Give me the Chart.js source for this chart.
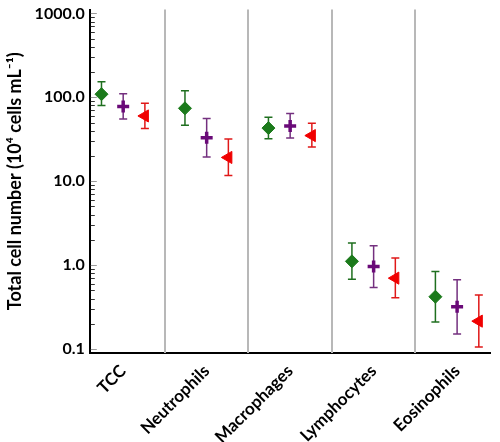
<!DOCTYPE html>
<html>
<head>
<meta charset="utf-8">
<title>Total cell number</title>
<script src="https://cdn.jsdelivr.net/npm/chart.js"></script>
<style>
  html, body { margin: 0; padding: 0; background: #fff; overflow: hidden; }
  #wrap { width: 500px; height: 442px; }
</style>
</head>
<body>
<div id="wrap"><canvas id="c"></canvas></div>
<script>
// data (10^4 cells / mL)
const categories = ['TCC', 'Neutrophils', 'Macrophages', 'Lymphocytes', 'Eosinophils'];
const yTicks = [0.1, 1, 10, 100, 1000];

const greenMean = [109, 74, 43, 1.11, 0.42];
const greenLow  = [80, 46.5, 32, 0.68, 0.21];
const greenHigh = [153, 120, 58, 1.83, 0.84];

const purpleMean = [78, 33, 45.6, 0.965, 0.32];
const purpleLow  = [55, 19.5, 32.7, 0.54, 0.151];
const purpleHigh = [110, 56, 64, 1.70, 0.67];

const redMean = [60, 19.2, 35, 0.70, 0.215];
const redLow  = [42.4, 11.7, 25.6, 0.41, 0.106];
const redHigh = [85, 31.8, 49, 1.22, 0.44];

const FONT = 'Lato, "DejaVu Sans", sans-serif';

const series = [
  { mean: greenMean, low: greenLow, high: greenHigh, shift: -0.26, color: '#1b7a1b', bar: '#1f6f1f', style: 'rectRot', radius: 6.5, bw: 1 },
  { mean: purpleMean, low: purpleLow, high: purpleHigh, shift: 0, color: '#6a0a78', bar: '#74307f', style: 'cross', radius: 6, bw: 3.5 },
  { mean: redMean, low: redLow, high: redHigh, shift: 0.26, color: '#f00000', bar: '#e01818', style: 'triangle', radius: 7, bw: 1 }
];

// separators, inside tick marks and error bars
const extras = {
  id: 'extras',
  beforeDatasetsDraw(chart) {
    const { ctx, chartArea: a, scales: { x, y } } = chart;
    ctx.save();
    ctx.strokeStyle = '#b8b8b8';
    ctx.lineWidth = 2;
    for (let i = 1; i < categories.length; i++) {
      const px = Math.round(x.getPixelForValue(i + 0.5));
      ctx.beginPath(); ctx.moveTo(px, a.top); ctx.lineTo(px, a.bottom); ctx.stroke();
    }
    series.forEach(s => {
      ctx.strokeStyle = s.bar;
      ctx.lineWidth = 1.5;
      s.mean.forEach((m, i) => {
        const px = x.getPixelForValue(i + 1 + s.shift);
        const y1 = y.getPixelForValue(s.low[i]);
        const y2 = y.getPixelForValue(s.high[i]);
        ctx.beginPath();
        ctx.moveTo(px, y1); ctx.lineTo(px, y2);
        ctx.moveTo(px - 4, y1); ctx.lineTo(px + 4, y1);
        ctx.moveTo(px - 4, y2); ctx.lineTo(px + 4, y2);
        ctx.stroke();
      });
    });
    ctx.restore();
  },
  afterDraw(chart) {
    const { ctx, chartArea: a, scales: { y } } = chart;
    ctx.save();
    for (let d = 0.1; d <= 1000; d *= 10) {
      for (let m = 1; m <= 9; m++) {
        const v = d * m;
        if (v > y.max) break;
        const py = Math.round(y.getPixelForValue(v)) + 0.5;
        ctx.strokeStyle = m === 1 ? '#999' : '#333';
        ctx.lineWidth = 1;
        ctx.beginPath(); ctx.moveTo(a.left + 1, py); ctx.lineTo(a.left + (m === 1 ? 7 : 5), py); ctx.stroke();
      }
    }
    ctx.restore();
  }
};

new Chart(document.getElementById('c'), {
  type: 'scatter',
  data: {
    datasets: series.map(s => ({
      data: s.mean.map((v, i) => ({ x: i + 1 + s.shift, y: v })),
      pointStyle: s.style,
      pointRadius: s.radius,
      pointHoverRadius: s.radius,
      rotation: s.style === 'triangle' ? -90 : 0,
      backgroundColor: s.color,
      borderColor: s.color,
      borderWidth: s.bw
    }))
  },
  options: {
    responsive: true,
    maintainAspectRatio: false,
    animation: false,
    layout: { padding: { top: 4, right: 0, left: 4, bottom: 0 } },
    plugins: { legend: { display: false }, tooltip: { enabled: false } },
    scales: {
      x: {
        type: 'linear',
        min: 0.6,
        max: 5.4,
        afterBuildTicks: sc => { sc.ticks = categories.map((c, i) => ({ value: i + 1 })); },
        afterFit: sc => { sc.height = 89; sc.paddingLeft = 0; sc.paddingRight = 0; },
        grid: { display: false, drawTicks: false },
        border: { display: true, color: '#000', width: 2 },
        ticks: {
          autoSkip: false,
          minRotation: 45,
          maxRotation: 45,
          padding: 8,
          color: '#000',
          font: { family: FONT, size: 17, weight: 'bold' },
          callback: v => categories[v - 1]
        }
      },
      y: {
        type: 'logarithmic',
        min: 0.0897,
        max: 1114,
        afterBuildTicks: sc => { sc.ticks = yTicks.map(v => ({ value: v })); },
        grid: { display: false, drawTicks: false },
        border: { display: true, color: '#000', width: 2 },
        ticks: {
          padding: 5,
          color: '#000',
          font: { family: FONT, size: 16, weight: 'bold', lineHeight: 0.5 },
          callback: v => v >= 1 ? v.toFixed(1) : String(v)
        },
        title: {
          display: true,
          text: 'Total cell number (10\u2074 cells mL\u207B\u00B9)',
          color: '#000',
          padding: { top: 0, bottom: 4 },
          font: { family: FONT, size: 18, weight: 'bold' }
        }
      }
    }
  },
  plugins: [extras]
});
</script>
</body>
</html>
